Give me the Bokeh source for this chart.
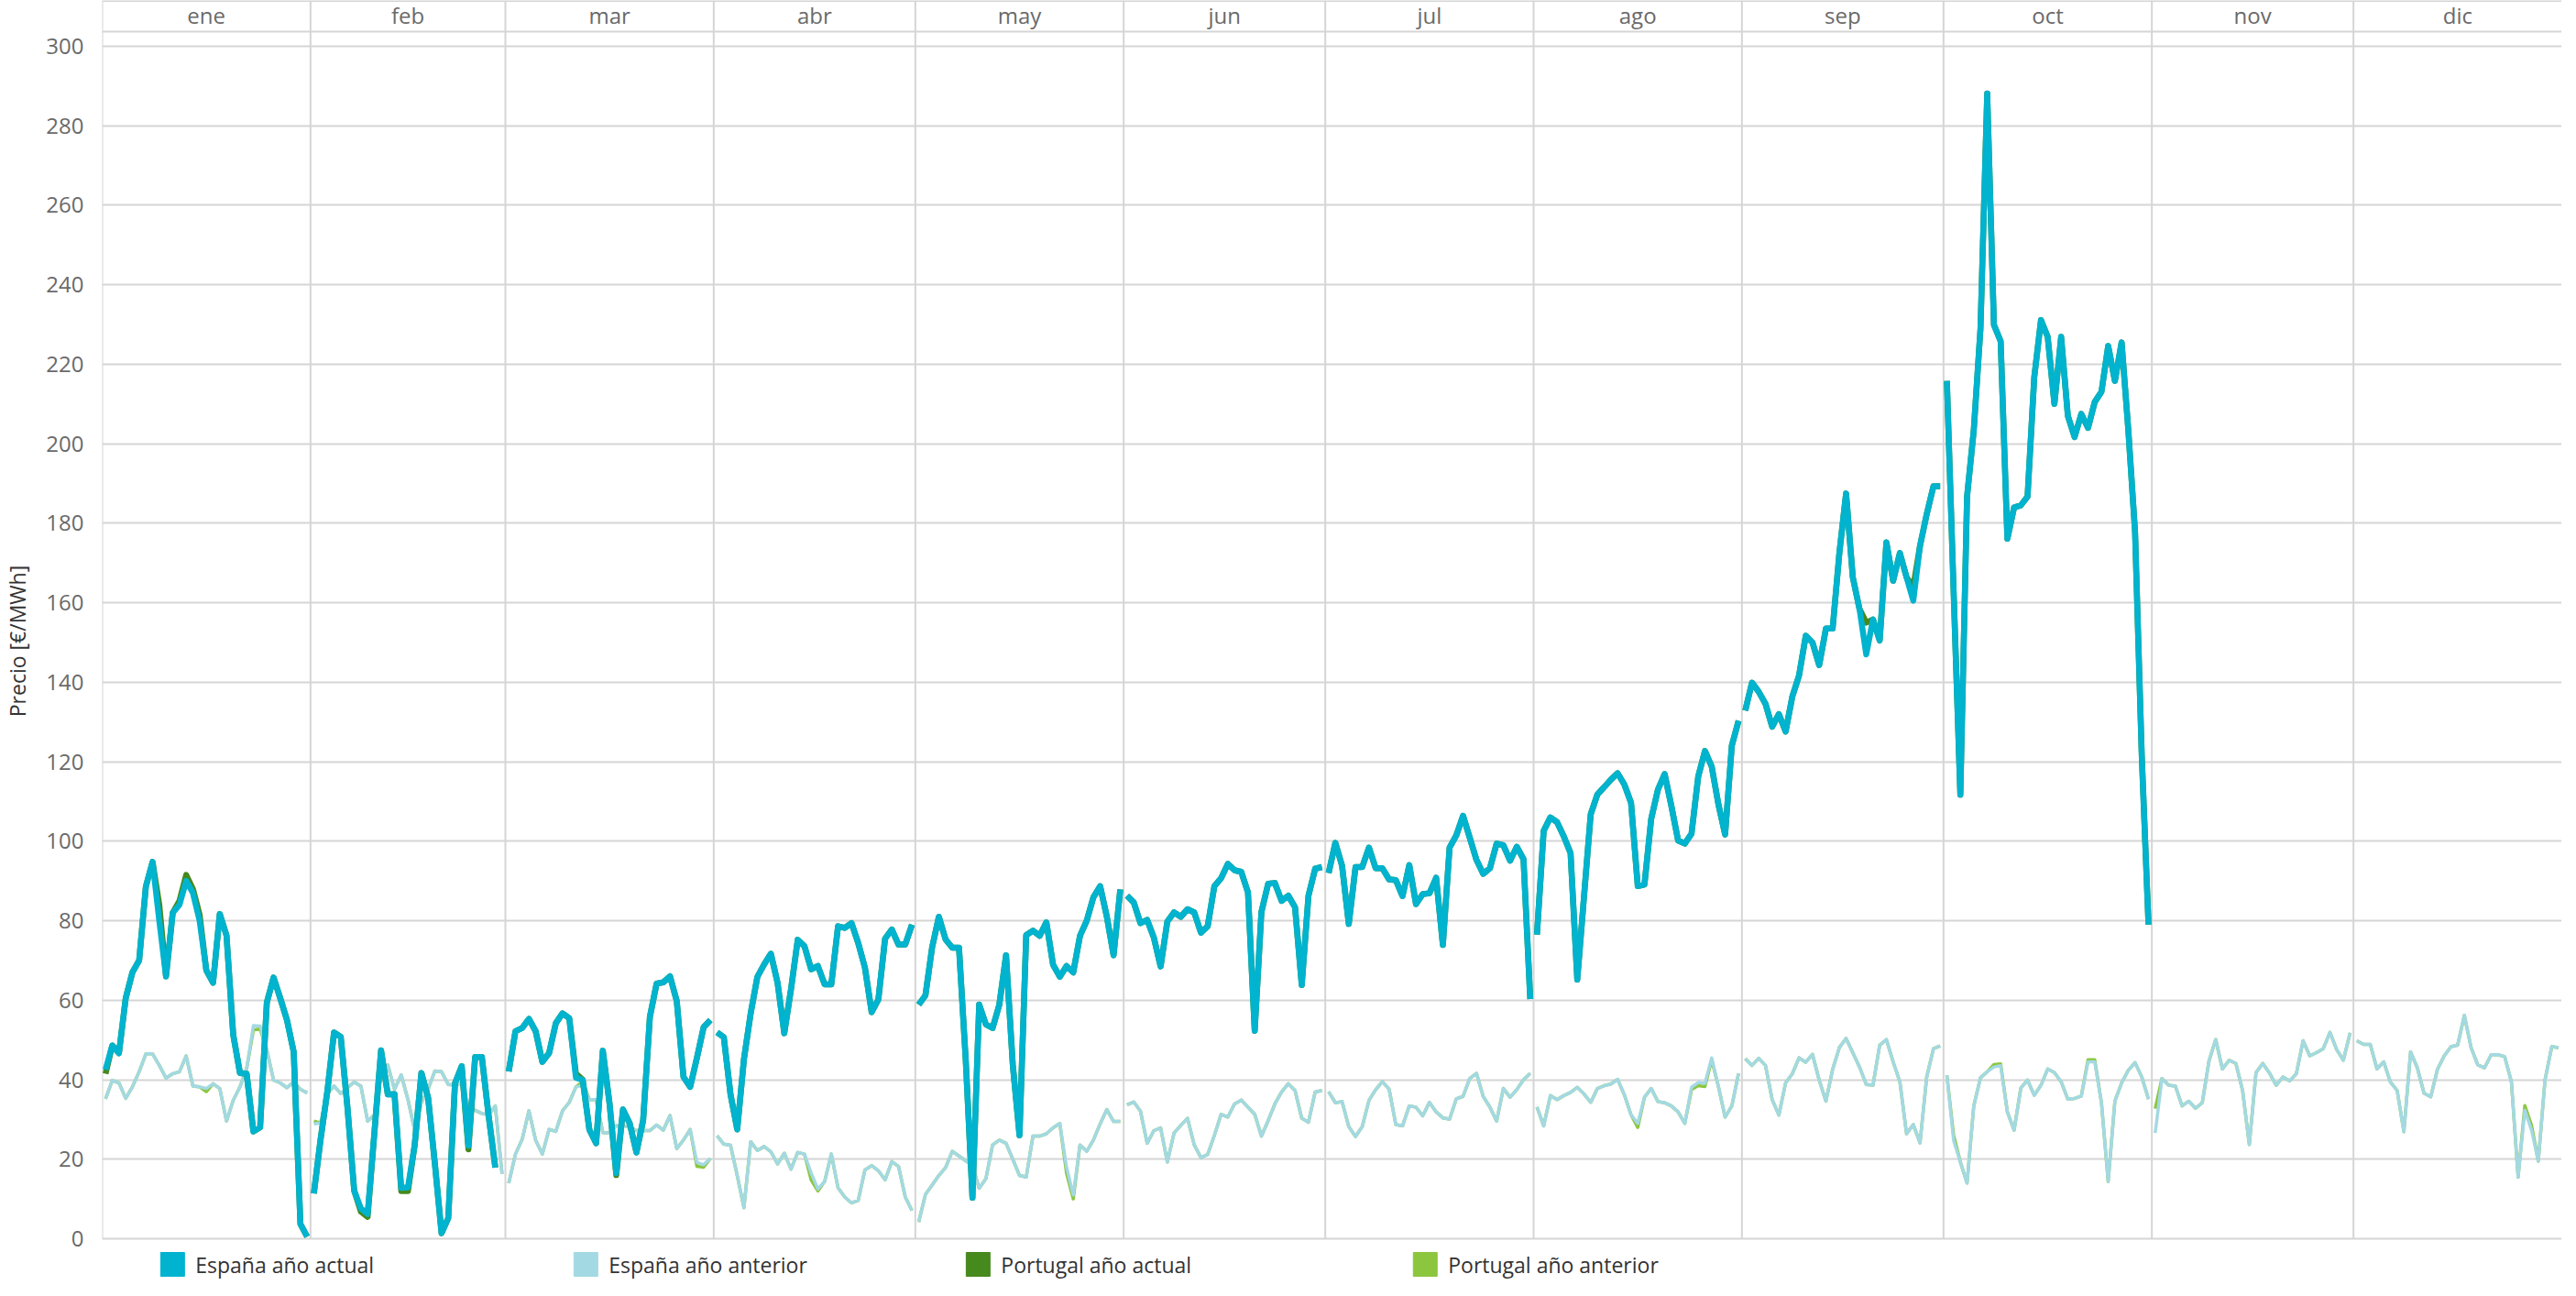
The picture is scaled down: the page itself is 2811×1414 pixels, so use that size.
import math
from bokeh.plotting import figure
from bokeh.models import Range1d, FixedTicker, ColumnDataSource
from bokeh.core.properties import value
from bokeh.embed import file_html
from bokeh.resources import INLINE

months = ["ene", "feb", "mar", "abr", "may", "jun", "jul", "ago", "sep", "oct", "nov", "dic"]
month_slots = [31, 29, 31, 30, 31, 30, 31, 31, 30, 31, 30, 31]
y_ticks = list(range(0, 301, 20))
series_names = ["España año actual", "España año anterior", "Portugal año actual", "Portugal año anterior"]
series_colors = ["#00b3cf", "#a3d9e3", "#46891d", "#8cc63f"]

es_actual = [
    [42.5, 48.6, 46.7, 60.5, 67, 70, 88.6, 94.8, 80, 66, 82, 84, 90, 87, 80, 67.5, 64.4, 81.7, 76.3, 51.3, 41.7, 41.5, 27, 28, 59.4, 65.7, 60.5, 55, 47, 3.7, 0.5],
    [11.4, 25, 37, 51.9, 50.8, 33, 12.1, 7.6, 6.2, 26.5, 47.4, 36.3, 36.4, 12.8, 12.9, 23.5, 41.7, 35.5, 19, 1.4, 5.2, 39.1, 43.4, 23.4, 45.7, 45.7, 31, 17.9],
    [42.1, 52.2, 53, 55.3, 52.2, 44.5, 46.7, 54.2, 56.7, 55.5, 40.5, 40, 27.4, 24, 47.3, 34, 16.5, 32.5, 29, 21.7, 29.8, 55.8, 64.2, 64.5, 66, 59.8, 40.7, 38.2, 45.5, 53.2, 55],
    [51.9, 50.7, 36.3, 27.5, 45.2, 56.7, 65.9, 69, 71.7, 64.4, 51.7, 62.8, 75.2, 73.6, 67.8, 68.6, 64, 64, 78.6, 78.2, 79.4, 74.4, 68.2, 57, 60.2, 75.5, 77.8, 74, 74, 79],
    [58.9, 61.2, 73.3, 81, 75.3, 73.2, 73.2, 45, 10.3, 58.9, 53.9, 53, 58.9, 71.3, 43.8, 26, 76.4, 77.5, 76.2, 79.6, 68.9, 65.9, 68.6, 67, 76.2, 80, 85.9, 88.7, 81, 71.3, 87.9],
    [86.3, 84.6, 79.4, 80.2, 75.7, 68.5, 79.8, 82.1, 81, 82.9, 82.1, 77, 78.6, 88.7, 90.7, 94.3, 92.7, 92.3, 87.1, 52.3, 82.2, 89.3, 89.5, 85, 86.3, 83.4, 63.8, 86.3, 93.1, 93.5],
    [92, 99.6, 93.8, 79.2, 93.5, 93.5, 98.4, 93.2, 93.2, 90.4, 90.2, 86.2, 94, 84.2, 86.7, 86.9, 90.8, 73.9, 98.4, 101.5, 106.4, 100.9, 95.3, 91.8, 93.2, 99.4, 99, 95.1, 98.6, 95.5, 60.3],
    [76.5, 102.6, 106, 104.8, 101.2, 97, 65.2, 86, 106.8, 111.8, 113.6, 115.5, 117.1, 114.3, 109.7, 88.7, 89.1, 105.6, 113, 116.9, 108.9, 100.2, 99.4, 101.9, 116.3, 122.7, 118.8, 109.3, 101.7, 124.1, 130.3],
    [132.9, 139.9, 137.6, 134.6, 128.8, 132, 127.6, 136.4, 141.7, 151.7, 150, 144.3, 153.5, 153.5, 172.5, 187.5, 166.4, 158.4, 147, 155.8, 150.5, 175.2, 165.5, 172.5, 166.4, 160.5, 174.3, 182.3, 189.3, 189.3],
    [215.8, 163, 111.7, 186.7, 203.4, 229, 288.1, 229.9, 225.8, 176.1, 184, 184.5, 186.7, 216.7, 231.1, 226.9, 210, 226.9, 207, 201.7, 207.5, 204, 210.5, 213.1, 224.6, 215.8, 225.5, 203.4, 177.8, 121.4, 79],
]

pt_actual = [
    [41.5, 48.6, 46.7, 60.5, 67, 70, 88.6, 94.8, 84, 66, 82, 85, 91.5, 88, 81.5, 67.5, 64.4, 81.7, 76.3, 51.3, 41.7, 41.5, 27, 28, 59.4, 65.7, 60.5, 55, 47, 3.7, 0.5],
    [11.4, 25, 37, 51.9, 50.8, 33, 12.1, 6.8, 5.5, 26.5, 47.4, 36.3, 36.4, 12.0, 12.0, 23.5, 41.7, 35.5, 19, 1.4, 5.2, 39.1, 43.4, 22.5, 45.7, 45.7, 31, 17.9],
    [42.1, 52.2, 53, 55.3, 52.2, 44.5, 46.7, 54.2, 56.7, 55.5, 41.5, 40, 27.4, 24, 47.3, 34, 16.0, 32.5, 29, 21.7, 29.8, 55.8, 64.2, 64.5, 66, 59.8, 40.7, 38.2, 45.5, 53.2, 55],
    [51.9, 50.7, 36.3, 27.5, 45.2, 56.7, 65.9, 69, 71.7, 64.4, 51.7, 62.8, 75.2, 73.6, 67.8, 68.6, 64, 64, 78.6, 78.2, 79.4, 74.4, 68.2, 57, 60.2, 75.5, 77.8, 74, 74, 79],
    [58.9, 61.2, 73.3, 81, 75.3, 73.2, 73.2, 45, 10.3, 58.9, 53.9, 53, 58.9, 71.3, 43.8, 26, 76.4, 77.5, 76.2, 79.6, 68.9, 65.9, 68.6, 67, 76.2, 80, 85.9, 88.7, 81, 71.3, 87.9],
    [86.3, 84.6, 79.4, 80.2, 75.7, 68.5, 79.8, 82.1, 81, 82.9, 82.1, 77, 78.6, 88.7, 90.7, 94.3, 92.7, 92.3, 87.1, 52.3, 82.2, 89.3, 89.5, 85, 86.3, 83.4, 63.8, 86.3, 93.1, 93.5],
    [92, 99.6, 93.8, 79.2, 93.5, 93.5, 98.4, 93.2, 93.2, 90.4, 90.2, 86.2, 94, 84.2, 86.7, 86.9, 90.8, 73.9, 98.4, 101.5, 106.4, 100.9, 95.3, 91.8, 93.2, 99.4, 99, 95.1, 98.6, 95.5, 60.3],
    [76.5, 102.6, 106, 104.8, 101.2, 97, 65.2, 86, 106.8, 111.8, 113.6, 115.5, 117.1, 114.3, 109.7, 88.7, 89.1, 105.6, 113, 116.9, 108.9, 100.2, 99.4, 101.9, 116.3, 122.7, 118.8, 109.3, 101.7, 124.1, 130.3],
    [132.9, 139.9, 137.6, 134.6, 128.8, 132, 127.6, 136.4, 141.7, 151.7, 150, 144.3, 153.5, 153.5, 172.5, 187.5, 166.4, 158.4, 155, 155.8, 150.5, 175.2, 165.5, 172.5, 166.4, 164, 174.3, 182.3, 189.3, 189.3],
    [215.8, 163, 111.7, 186.7, 203.4, 229, 288.1, 229.9, 225.8, 176.1, 184, 184.5, 186.7, 216.7, 231.1, 226.9, 210, 226.9, 207, 201.7, 207.5, 204, 210.5, 213.1, 224.6, 215.8, 225.5, 203.4, 177.8, 121.4, 79],
]

es_previous = [
    [35.2, 39.8, 39.2, 35.3, 38.2, 42, 46.5, 46.5, 43.6, 40.4, 41.5, 42, 46, 38.4, 38.2, 37.8, 39, 37.8, 29.6, 34.8, 38.2, 42.8, 53.6, 53.5, 47.5, 39.9, 39.2, 38, 39.4, 37.6, 36.7],
    [28.9, 29.1, 36.5, 38.4, 36.5, 38, 39.4, 38.4, 29.6, 31.1, 41, 43.7, 37.6, 41.2, 35, 27.3, 34.2, 37.6, 42.2, 42, 38.8, 38.6, 39.2, 33.4, 32.3, 31.5, 31.1, 33.4, 16.3],
    [14, 21.3, 25, 32.2, 24.8, 21.3, 27.5, 27, 32.2, 34.3, 38.2, 38.6, 35, 35, 26.7, 26.6, 28.4, 28.5, 28, 27.2, 27.2, 27.2, 28.6, 27.3, 31, 22.7, 24.8, 27.5, 19.2, 18.6, 20.2],
    [25.9, 23.8, 23.5, 15.9, 7.8, 24.4, 22.2, 23.2, 21.9, 18.8, 21.5, 17.5, 21.7, 21.3, 16.5, 12.5, 14.4, 21.3, 12.8, 10.5, 9, 9.6, 17.3, 18.4, 17.1, 14.8, 19.4, 18.2, 10.5, 7.1],
    [4.2, 11.1, 13.5, 15.9, 17.9, 22, 20.8, 19.6, 18.4, 12.7, 15.1, 23.6, 24.8, 24, 20, 15.9, 15.5, 25.8, 25.8, 26.4, 27.9, 29, 18, 11, 23.6, 22, 24.8, 28.9, 32.5, 29.5, 29.5],
    [33.7, 34.4, 32.1, 24, 27.2, 27.9, 19.3, 26.6, 28.5, 30.3, 23.6, 20.4, 21.2, 26, 31.3, 30.6, 33.9, 34.9, 33.1, 31.3, 25.8, 29.7, 33.9, 36.9, 39, 37.3, 30.3, 29.3, 36.9, 37.3],
    [37, 34.2, 34.5, 28.2, 25.7, 28.2, 34.8, 37.5, 39.5, 37.6, 28.7, 28.4, 33.4, 33.1, 30.9, 34.3, 31.9, 30.4, 30.1, 35.2, 35.8, 40.3, 41.6, 35.8, 33.1, 29.6, 37.8, 35.6, 37.5, 40, 41.6],
    [33.1, 28.4, 36, 35, 36, 36.8, 38.1, 36.4, 34.3, 37.8, 38.5, 38.9, 40.1, 36.2, 31.2, 29, 35.6, 37.8, 34.5, 34.2, 33.4, 31.9, 29, 38.1, 39.3, 39.1, 45.5, 38.3, 30.6, 33.4, 41.6],
    [45.3, 43.6, 45.4, 43.6, 35, 31.1, 39.2, 41.5, 45.5, 44.4, 46.4, 39.9, 34.6, 42.6, 48.1, 50.4, 46.8, 43.2, 38.8, 38.6, 48.7, 50.1, 44.5, 39.5, 26.4, 28.7, 24.1, 40.7, 47.8, 48.5],
    [41.1, 24.7, 19.3, 14, 33.4, 40.5, 42, 43.2, 43.5, 31.9, 27.3, 37.9, 39.9, 36.1, 38.6, 42.7, 41.8, 39.5, 35.1, 35.3, 35.9, 44.5, 44.5, 34.2, 14.4, 34.6, 39.2, 42.4, 44.3, 40.7, 35.1],
    [26.6, 40.3, 38.6, 38.4, 33.4, 34.6, 32.8, 34.2, 44.7, 50.1, 42.7, 44.9, 44.1, 37.3, 23.7, 41.8, 44.1, 41.7, 38.6, 40.7, 39.7, 41.5, 49.8, 46, 46.8, 47.8, 51.9, 47.6, 44.9, 51.8],
    [49.8, 48.9, 48.9, 42.7, 44.5, 39.4, 37.3, 26.9, 47, 43, 36.6, 35.7, 42.6, 46, 48.3, 48.7, 56.2, 48.1, 43.7, 43, 46.3, 46.3, 45.8, 39.5, 15.5, 32.3, 27.3, 19.5, 39.9, 48.3, 48.1],
]

pt_previous = [
    [35.2, 39.8, 39.2, 35.3, 38.2, 42, 46.5, 46.5, 43.6, 40.4, 41.5, 42, 46, 38.4, 38.2, 37.0, 39, 37.8, 29.6, 34.8, 38.2, 42.8, 52.5, 52.8, 47.5, 39.9, 39.2, 38, 39.4, 37.6, 36.7],
    [29.6, 29.1, 36.5, 38.4, 36.5, 38, 39.4, 38.4, 29.6, 31.1, 41, 43.7, 37.6, 41.2, 35, 27.3, 34.2, 37.6, 42.2, 42, 38.8, 38.6, 39.2, 33.4, 32.3, 31.5, 31.1, 33.4, 16.3],
    [14, 21.3, 25, 32.2, 24.8, 21.3, 27.5, 27, 32.2, 34.3, 38.2, 39.5, 35, 35, 26.7, 26.6, 28.4, 28.5, 28, 27.2, 27.2, 27.2, 28.6, 27.3, 31, 22.7, 24.8, 27.5, 18.2, 18.0, 20.2],
    [25.9, 23.8, 23.5, 15.9, 7.8, 24.4, 22.2, 23.2, 21.9, 18.8, 21.5, 17.5, 21.7, 21.3, 14.8, 12.0, 14.4, 21.3, 12.8, 10.5, 9, 9.6, 17.3, 18.4, 17.1, 14.8, 19.4, 18.2, 10.5, 7.1],
    [4.2, 11.1, 13.5, 15.9, 17.9, 22, 20.8, 19.6, 18.4, 12.7, 15.1, 23.6, 24.8, 24, 20, 15.9, 15.5, 25.8, 25.8, 26.4, 27.9, 29, 16.5, 10.0, 23.6, 22, 24.8, 28.9, 32.5, 29.5, 29.5],
    [33.7, 34.4, 32.1, 24, 27.2, 27.9, 19.3, 26.6, 28.5, 30.3, 23.6, 20.4, 21.2, 26, 31.3, 30.6, 33.9, 34.9, 33.1, 31.3, 25.8, 29.7, 33.9, 36.9, 39, 37.3, 30.3, 29.3, 36.9, 37.3],
    [37, 34.2, 34.5, 28.2, 25.7, 28.2, 34.8, 37.5, 39.5, 37.6, 28.7, 28.4, 33.4, 33.1, 30.9, 34.3, 31.9, 30.4, 30.1, 35.2, 35.8, 40.3, 41.6, 35.8, 33.1, 29.6, 37.8, 35.6, 37.5, 40, 41.6],
    [33.1, 28.4, 36, 35, 36, 36.8, 38.1, 36.4, 34.3, 37.8, 38.5, 38.9, 40.1, 36.2, 31.2, 28.0, 35.6, 37.8, 34.5, 34.2, 33.4, 31.9, 29, 37.5, 38.5, 38.3, 45.0, 38.3, 30.6, 33.4, 41.6],
    [45.3, 43.6, 45.4, 43.6, 35, 31.1, 39.2, 41.5, 45.5, 44.4, 46.4, 39.9, 34.6, 42.6, 48.1, 50.4, 46.8, 43.2, 38.8, 38.6, 48.7, 50.1, 44.5, 39.5, 26.4, 28.7, 24.1, 40.7, 47.8, 48.5],
    [41.1, 26.0, 19.3, 14, 33.4, 40.5, 42, 43.8, 44.0, 31.9, 27.3, 37.9, 39.9, 36.1, 38.6, 42.7, 41.8, 39.5, 35.1, 35.3, 35.9, 45.0, 45.0, 34.2, 14.4, 34.6, 39.2, 42.4, 44.3, 40.7, 35.1],
    [32.7, 40.3, 38.6, 38.4, 33.4, 34.6, 32.8, 34.2, 44.7, 50.1, 42.7, 44.9, 44.1, 37.3, 23.7, 41.8, 44.1, 41.7, 38.6, 40.7, 39.7, 41.5, 49.8, 46, 46.8, 47.8, 51.9, 47.6, 44.9, 51.8],
    [49.8, 48.9, 48.9, 42.7, 44.5, 39.4, 37.3, 26.9, 47, 43, 36.6, 35.7, 42.6, 46, 48.3, 48.7, 56.2, 48.1, 43.7, 43, 46.3, 46.3, 45.8, 39.5, 15.5, 33.5, 28.5, 19.5, 39.9, 48.3, 48.1],
]

# ---------------------------------------------------------------- layout
W, H = 2795, 1398
FRAME_LEFT = 105
Y_MIN, Y_MAX = -10.84, 311.53
HEADER_BOTTOM = 303.69
TOTAL_SLOTS = sum(month_slots)
GRID = "#d5d5d5"

month_starts = []
acc = 0
for s in month_slots:
    month_starts.append(acc)
    acc += s


def series_xy(month_lists):
    xs, ys = [], []
    for m, vals in enumerate(month_lists):
        for d, v in enumerate(vals):
            xs.append(month_starts[m] + d + 0.5)
            ys.append(v)
        xs.append(math.nan)
        ys.append(math.nan)
    return xs, ys


p = figure(width=W, height=H, output_backend="svg", toolbar_location=None,
           x_range=Range1d(0, TOTAL_SLOTS), y_range=Range1d(Y_MIN, Y_MAX),
           x_axis_location=None,
           min_border_left=FRAME_LEFT, min_border_right=0, min_border_top=0, min_border_bottom=0)
p.outline_line_color = None
p.background_fill_color = "white"
p.border_fill_color = "white"

p.yaxis.ticker = FixedTicker(ticks=y_ticks)
p.yaxis.axis_line_color = None
p.yaxis.major_tick_line_color = None
p.yaxis.minor_tick_line_color = None
p.yaxis.major_label_standoff = 14
p.yaxis.major_label_text_font = "Open Sans"
p.yaxis.major_label_text_font_size = "24px"
p.yaxis.major_label_text_color = "#6a6a6a"
p.yaxis.axis_label = "Precio [€/MWh]"
p.yaxis.axis_label_text_font = "Open Sans"
p.yaxis.axis_label_text_font_size = "23px"
p.yaxis.axis_label_text_font_style = "normal"
p.yaxis.axis_label_text_color = "#333333"
p.yaxis.axis_label_standoff = 12

p.ygrid.ticker = FixedTicker(ticks=y_ticks)
p.ygrid.grid_line_color = GRID
p.ygrid.grid_line_width = 2
p.xgrid.visible = False

# month separators and header box
p.segment(x0=month_starts, y0=[0] * 12, x1=month_starts, y1=[Y_MAX] * 12,
          line_color=GRID, line_width=2)
p.segment(x0=[0, 0], y0=[HEADER_BOTTOM, Y_MAX - 0.12], x1=[TOTAL_SLOTS, TOTAL_SLOTS],
          y1=[HEADER_BOTTOM, Y_MAX - 0.12], line_color=GRID, line_width=2)
centers = [month_starts[i] + month_slots[i] / 2 for i in range(12)]
p.text(x=centers, y=[(HEADER_BOTTOM + Y_MAX) / 2 + 0.2] * 12, text=months,
       text_align="center", text_baseline="middle",
       text_font=value("Open Sans"), text_font_size="24px", text_color="#6a6a6a")

# lines
for data, color, width in [(pt_previous, series_colors[3], 3.5),
                           (es_previous, series_colors[1], 3.5),
                           (pt_actual, series_colors[2], 6.5),
                           (es_actual, series_colors[0], 6.5)]:
    xs, ys = series_xy(data)
    p.line(xs, ys, line_color=color, line_width=width, line_join="round")

# legend (manual, below plot area)
px_per_slot = (W - FRAME_LEFT) / TOTAL_SLOTS
px_per_unit = H / (Y_MAX - Y_MIN)
legend_px = [182, 634, 1063, 1552]
legend_x = [(v - FRAME_LEFT) / px_per_slot for v in legend_px]
legend_y = Y_MIN + 19 / px_per_unit
src = ColumnDataSource(dict(x=legend_x, y=[legend_y] * 4, c=series_colors,
                            tx=[x + 25 / px_per_slot for x in legend_x], label=series_names))
p.scatter("x", "y", source=src, marker="square", size=26, fill_color="c", line_color="c")
p.text("tx", "y", text="label", source=src, text_align="left", text_baseline="middle",
       text_font=value("Open Sans"), text_font_size="23px", text_color="#333333")

open("out.html", "w").write(file_html(p, INLINE))
